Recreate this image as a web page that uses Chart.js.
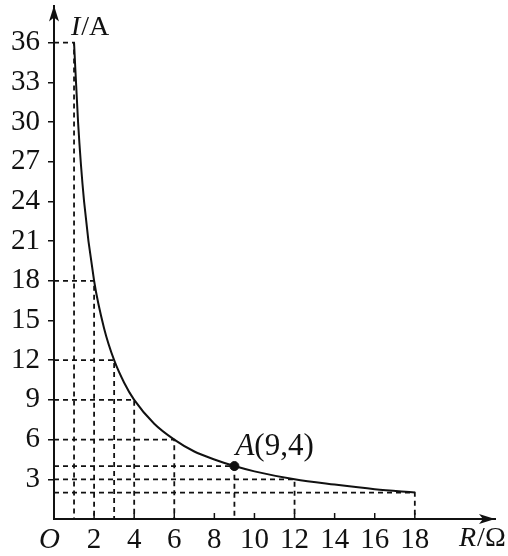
<!DOCTYPE html>
<html>
<head>
<meta charset="utf-8">
<script src="https://cdn.jsdelivr.net/npm/chart.js@4.4.1/dist/chart.umd.min.js"></script>
<style>
  html, body { margin: 0; padding: 0; background: #fff; }
  #wrap { width: 508px; height: 556px; }
</style>
</head>
<body>
<div id="wrap"><canvas id="chart" width="508" height="556"></canvas></div>
<script>
/* ===============================
   DATA
================================= */
const curveR = [1, 1.2, 1.5, 2, 2.5, 3, 3.5, 4, 5, 6, 7, 8, 9, 10, 12, 14, 16, 18];
const curveI = [36, 30, 24, 18, 14.4, 12, 10.3, 9, 7.2, 6, 5.1, 4.5, 4, 3.6, 3, 2.6, 2.25, 2];

// dashed guide lines: corner points on the curve
const guideR = [1, 2, 3, 4, 6, 9, 12, 18];
const guideI = [36, 18, 12, 9, 6, 4, 3, 2];

const pointR = [9];
const pointI = [4];
const pointLabel = ['A', '(9,4)'];

const xTicks = [2, 4, 6, 8, 10, 12, 14, 16, 18];
const yTicks = [3, 6, 9, 12, 15, 18, 21, 24, 27, 30, 33, 36];

const xMax = 22;
const yMax = 38.8;

/* ===============================
   STYLE
================================= */
const FONT = 'Liberation Serif, Times New Roman, serif';
const INK = '#111';
Chart.defaults.font.family = FONT;
Chart.defaults.font.size = 29;
Chart.defaults.color = INK;

const guideSets = guideR.map((r, k) => ({
    data: [{ x: 0, y: guideI[k] }, { x: r, y: guideI[k] }, { x: r, y: 0 }],
    showLine: true,
    borderColor: INK,
    borderWidth: 1.8,
    borderDash: [5, 4],
    pointRadius: 0,
    tension: 0
}));

/* ===============================
   DECORATION PLUGIN
   arrows, inward x ticks, labels
================================= */
function drawParts(ctx, parts, x, y, size) {
    parts.forEach(p => {
        ctx.font = (p.italic ? 'italic ' : '') + size + 'px ' + FONT;
        ctx.fillText(p.text, x, y);
        x += ctx.measureText(p.text).width + (p.gap || 0);
    });
}

const decor = {
    id: 'decor',
    afterDraw(chart) {
        const { ctx, chartArea: a, scales: { x, y } } = chart;
        const x0 = x.getPixelForValue(0);
        const y0 = y.getPixelForValue(0);
        ctx.save();
        ctx.fillStyle = INK;
        ctx.strokeStyle = INK;

        // y arrow
        ctx.beginPath();
        ctx.moveTo(x0, a.top);
        ctx.lineTo(x0 - 5, a.top + 16);
        ctx.lineTo(x0, a.top + 12);
        ctx.lineTo(x0 + 5, a.top + 16);
        ctx.closePath();
        ctx.fill();

        // x arrow
        ctx.beginPath();
        ctx.moveTo(a.right, y0);
        ctx.lineTo(a.right - 16, y0 - 5);
        ctx.lineTo(a.right - 12, y0);
        ctx.lineTo(a.right - 16, y0 + 5);
        ctx.closePath();
        ctx.fill();

        // inward ticks on x axis
        ctx.lineWidth = 1.5;
        xTicks.forEach(v => {
            const px = x.getPixelForValue(v);
            ctx.beginPath();
            ctx.moveTo(px, y0);
            ctx.lineTo(px, y0 - 6);
            ctx.stroke();
        });

        ctx.textBaseline = 'alphabetic';
        ctx.textAlign = 'left';

        // origin
        drawParts(ctx, [{ text: 'O', italic: true }], x0 - 15, y0 + 29, 29);
        // axis titles
        drawParts(ctx, [{ text: 'I', italic: true, gap: 1 }, { text: '/A' }], x0 + 17, a.top + 29, 28);
        drawParts(ctx, [{ text: 'R', italic: true, gap: 1 }, { text: '/Ω' }], a.right - 36, y0 + 27, 28);

        // point label
        const px = x.getPixelForValue(pointR[0]);
        const py = y.getPixelForValue(pointI[0]);
        drawParts(ctx, [{ text: pointLabel[0], italic: true }, { text: pointLabel[1] }], px + 1, py - 11, 31);

        ctx.restore();
    }
};

/* ===============================
   CHART
================================= */
new Chart(document.getElementById('chart'), {
    type: 'scatter',
    data: {
        datasets: [
            ...guideSets,
            {
                data: curveR.map((r, k) => ({ x: r, y: curveI[k] })),
                showLine: true,
                borderColor: INK,
                borderWidth: 2,
                pointRadius: 0,
                cubicInterpolationMode: 'monotone'
            },
            {
                data: pointR.map((r, k) => ({ x: r, y: pointI[k] })),
                pointRadius: 4.5,
                pointBackgroundColor: INK,
                pointBorderColor: INK
            }
        ]
    },
    options: {
        responsive: false,
        animation: false,
        events: [],
        layout: { padding: { top: 3, right: 13, left: 0, bottom: 0 } },
        plugins: {
            legend: { display: false },
            tooltip: { enabled: false }
        },
        scales: {
            x: {
                type: 'linear',
                min: 0,
                max: xMax,
                afterBuildTicks: s => { s.ticks = xTicks.map(v => ({ value: v })); },
                afterFit: s => { s.height = 37; s.paddingLeft = 0; s.paddingRight = 0; },
                grid: { display: false, drawTicks: false },
                border: { display: true, color: INK, width: 2 },
                ticks: { padding: 4, maxRotation: 0, autoSkip: false }
            },
            y: {
                type: 'linear',
                min: 0,
                max: yMax,
                afterBuildTicks: s => { s.ticks = yTicks.map(v => ({ value: v })); },
                afterFit: s => { s.width = 54; s.paddingTop = 0; s.paddingBottom = 0; },
                grid: { display: true, drawOnChartArea: false, drawTicks: true, tickLength: 6, color: INK, lineWidth: 1.5 },
                border: { display: true, color: INK, width: 2 },
                ticks: { padding: 8, autoSkip: false }
            }
        }
    },
    plugins: [decor]
});
</script>
</body>
</html>
